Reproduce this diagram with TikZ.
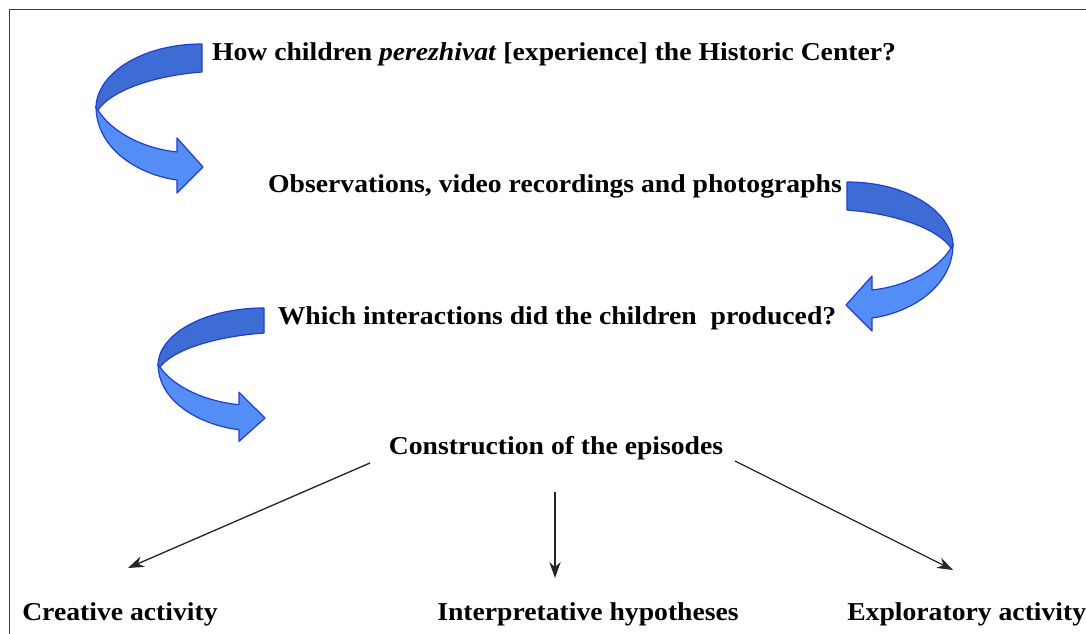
\documentclass[tikz,border=0pt]{standalone}
\usepackage{fontspec}
\setmainfont{Liberation Serif}[FakeStretch=1.075]
\usetikzlibrary{arrows.meta}
\definecolor{ribdark}{RGB}{60,108,212}
\definecolor{riblight}{RGB}{82,142,246}
\definecolor{ribline}{RGB}{30,60,225}
\definecolor{frameline}{RGB}{60,60,60}
\tikzset{
  lbl/.style={font=\fontsize{19.3}{21}\selectfont\bfseries, inner sep=0pt, anchor=base},
  conn/.style={draw=black!85, line width=1pt, -{Stealth[length=12pt,width=8.5pt]}},
  ribbonline/.style={draw=ribline, line width=0.9pt, line join=round},
  pics/ribbon/.style={code={
    \fill[riblight, ribbonline] (-106,62) .. controls (-106,106) and (-62,131) .. (-25,136)
      -- (-25,149) -- (1,123) -- (-25,94) -- (-25,108)
      .. controls (-62,104) and (-92,86) .. (-104,66) -- cycle;
    \fill[ribdark, ribbonline] (0,0) .. controls (-62,0) and (-106,31) .. (-106,64)
      -- (-104,66) .. controls (-92,48) and (-52,32) .. (0,28) -- cycle;
  }}
}
\begin{document}
\begin{tikzpicture}[x=0.75pt,y=-0.75pt]
\useasboundingbox (0,0) rectangle (1086,634);
% frame
\draw[frameline, line width=1.2pt] (9.5,634) -- (9.5,9.5) -- (1086,9.5);
% curved ribbon arrows
\pic at (202,44) {ribbon};
\pic[xscale=-1] at (847,182) {ribbon};
\pic[yscale=0.895] at (264,308) {ribbon};
% texts
\node[lbl] (t1) at (554,61) {How children \textit{perezhivat} [experience] the Historic Center?};
\node[lbl] (t2) at (555,193) {Observations, video recordings and photographs};
\node[lbl] (t3) at (557,325) {Which interactions did the children\ \ produced?};
\node[lbl] (t4) at (556,455) {Construction of the episodes};
\node[lbl, anchor=base west] (t5) at (22,620) {Creative activity};
\node[lbl, anchor=base west] (t6) at (437,620) {Interpretative hypotheses};
\node[lbl, anchor=base west] (t7) at (847,620) {Exploratory activity};
% connectors
\coordinate (c1a) at (370,463);
\coordinate (c1b) at (128,568);
\coordinate (c2a) at (555,492);
\coordinate (c2b) at (555,578);
\coordinate (c3a) at (735,461);
\coordinate (c3b) at (953,570);
\draw[conn] (c1a) -- (c1b);
\draw[conn] (c2a) -- (c2b);
\draw[conn] (c3a) -- (c3b);
\end{tikzpicture}
\end{document}
